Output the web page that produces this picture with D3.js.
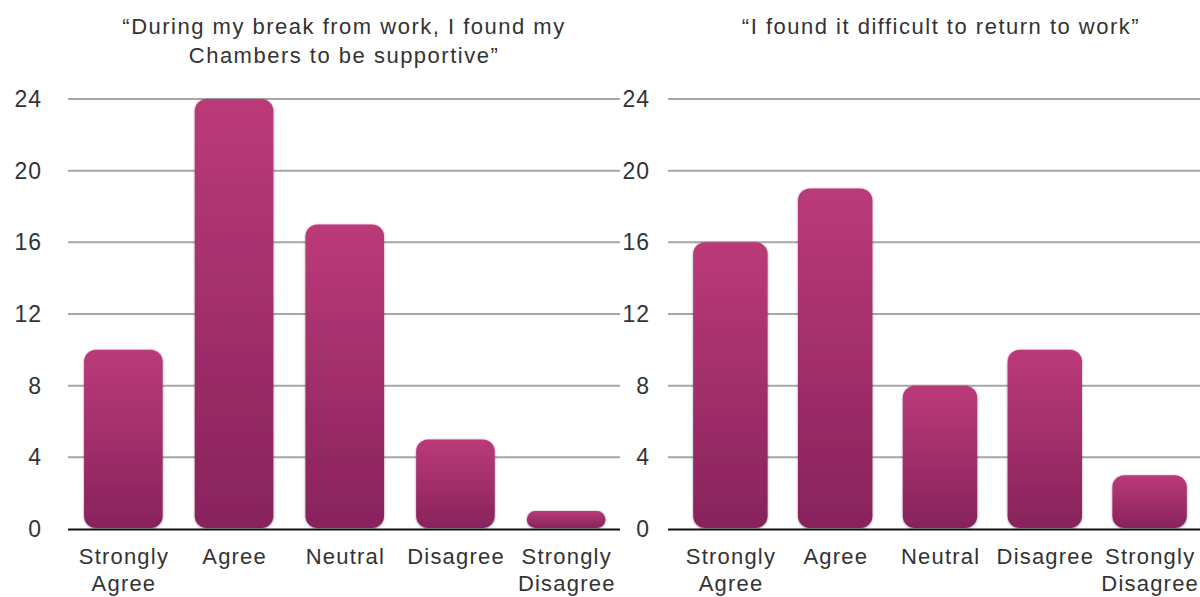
<!DOCTYPE html>
<html><head><meta charset="utf-8">
<script src="https://cdn.jsdelivr.net/npm/d3@7"></script>
<style>
html,body{margin:0;padding:0;background:#fff;}
svg text{font-family:"Liberation Sans",Helvetica,Arial,sans-serif;fill:#333;}
</style></head>
<body>
<svg id="chart" width="1200" height="597"></svg>
<script>
const categories = [["Strongly","Agree"],["Agree"],["Neutral"],["Disagree"],["Strongly","Disagree"]];
const categoryKeys = ["Strongly Agree","Agree","Neutral","Disagree","Strongly Disagree"];
const supportiveValues = [10, 24, 17, 5, 1];
const difficultValues = [16, 19, 8, 10, 3];
const tickValues = [0, 4, 8, 12, 16, 20, 24];
const titleLeft = ["\u201CDuring my break from work, I found my","Chambers to be supportive\u201D"];
const titleRight = ["\u201CI found it difficult to return to work\u201D"];

const svg = d3.select("#chart");
const defs = svg.append("defs");
const grad = defs.append("linearGradient").attr("id","barGrad").attr("x1",0).attr("y1",0).attr("x2",0).attr("y2",1);
grad.append("stop").attr("offset","0%").attr("stop-color","#bb3a79");
grad.append("stop").attr("offset","100%").attr("stop-color","#88235c");
const f = defs.append("filter").attr("id","shadow").attr("x","-10%").attr("y","-10%").attr("width","120%").attr("height","120%");
f.append("feDropShadow").attr("dx",0).attr("dy",0.5).attr("stdDeviation",1).attr("flood-color","#000").attr("flood-opacity",0.45);

const y = d3.scaleLinear().domain([0,24]).range([529,99]);

function panel(opts){
  const g = svg.append("g");
  const x = d3.scaleBand().domain(categoryKeys).range(opts.band).paddingInner(0.29).paddingOuter(0.145);
  // gridlines
  g.selectAll("line.grid").data(tickValues.filter(t=>t>0)).enter().append("line")
    .attr("x1",opts.grid[0]).attr("x2",opts.grid[1])
    .attr("y1",d=>y(d)).attr("y2",d=>y(d))
    .attr("stroke","#a6a6a6").attr("stroke-width",2);
  // tick labels
  g.selectAll("text.tick").data(tickValues).enter().append("text")
    .attr("x",opts.tickX).attr("y",d=>y(d)+8)
    .attr("text-anchor","end").attr("font-size",23).attr("letter-spacing",1).text(d=>d);
  // bars
  g.selectAll("rect.bar").data(opts.values).enter().append("rect")
    .attr("x",(d,i)=>x(categoryKeys[i])).attr("width",x.bandwidth())
    .attr("y",d=>y(d)).attr("height",d=>y(0)-y(d)-1)
    .attr("rx",d=>Math.min(12,(y(0)-y(d)-1)/2)).attr("ry",d=>Math.min(12,(y(0)-y(d)-1)/2))
    .attr("fill","url(#barGrad)").attr("filter","url(#shadow)");
  // baseline
  g.append("line").attr("x1",opts.grid[0]).attr("x2",opts.grid[1])
    .attr("y1",y(0)+0.5).attr("y2",y(0)+0.5).attr("stroke","#111").attr("stroke-width",2);
  // category labels
  categories.forEach((lines,i)=>{
    const cx = x(categoryKeys[i])+x.bandwidth()/2 + 0.6;
    const t = g.append("text").attr("x",cx).attr("y",564)
      .attr("text-anchor","middle").attr("font-size",22).attr("letter-spacing",1.2);
    lines.forEach((l,j)=>t.append("tspan").attr("x",cx).attr("dy",j?27:0).text(l));
  });
  // title
  const tt = g.append("text").attr("x",opts.titleX).attr("y",34).attr("text-anchor","middle")
    .attr("font-size",22).attr("letter-spacing",1.5);
  opts.title.forEach((l,j)=>tt.append("tspan").attr("x",opts.titleX).attr("dy",j?29:0).text(l));
}

panel({band:[68,621.5], grid:[68,620], tickX:42, values:supportiveValues, title:titleLeft, titleX:344});
panel({band:[678,1202], grid:[668,1200], tickX:650, values:difficultValues, title:titleRight, titleX:941});
</script>
</body></html>
